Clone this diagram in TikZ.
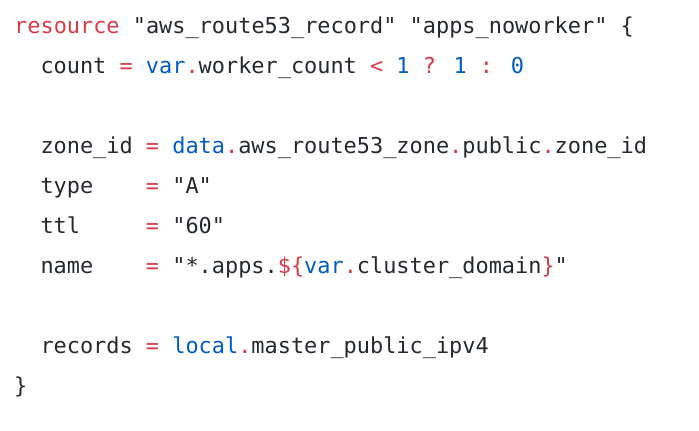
\documentclass[tikz,border=0pt]{standalone}
\usepackage{fontspec}
\newfontfamily\codefont{DejaVu Sans Mono}
\definecolor{kw}{HTML}{D73A49}
\definecolor{bl}{HTML}{005CC5}
\definecolor{tx}{HTML}{24292E}
\newcommand\R[1]{\textcolor{kw}{#1}}
\newcommand\B[1]{\textcolor{bl}{#1}}
\begin{document}
\begin{tikzpicture}[x=1pt,y=-1pt,
  codeline/.style={anchor=base west, inner sep=0pt, text=tx,
    font=\codefont\fontsize{21.9}{26}\selectfont}]
\fill[white] (0,0) rectangle (699,431);
\useasboundingbox (0,0) rectangle (699,431);
\node[codeline] (l1) at (14,33) {\R{resource} "aws\_route53\_record" "apps\_noworker" \{};
\node[codeline] (l2) at (40.3,73) {count \R{=} \B{var}\R{.}worker\_count \R{<} \B{1} \R{?} \B{1} \R{:} \B{0}};
\node[codeline] (l4) at (40.3,153) {zone\_id \R{=} \B{data}\R{.}aws\_route53\_zone\R{.}public\R{.}zone\_id};
\node[codeline] (l5) at (40.3,193) {type\ \ \ \ \R{=} "A"};
\node[codeline] (l6) at (40.3,233) {ttl\ \ \ \ \ \R{=} "60"};
\node[codeline] (l7) at (40.3,273) {name\ \ \ \ \R{=} "*.apps.\R{\$\{}\B{var}\R{.}cluster\_domain\R{\}}"};
\node[codeline] (l9) at (40.3,353) {records \R{=} \B{local}\R{.}master\_public\_ipv4};
\node[codeline] (l10) at (14,393) {\}};
\end{tikzpicture}
\end{document}
